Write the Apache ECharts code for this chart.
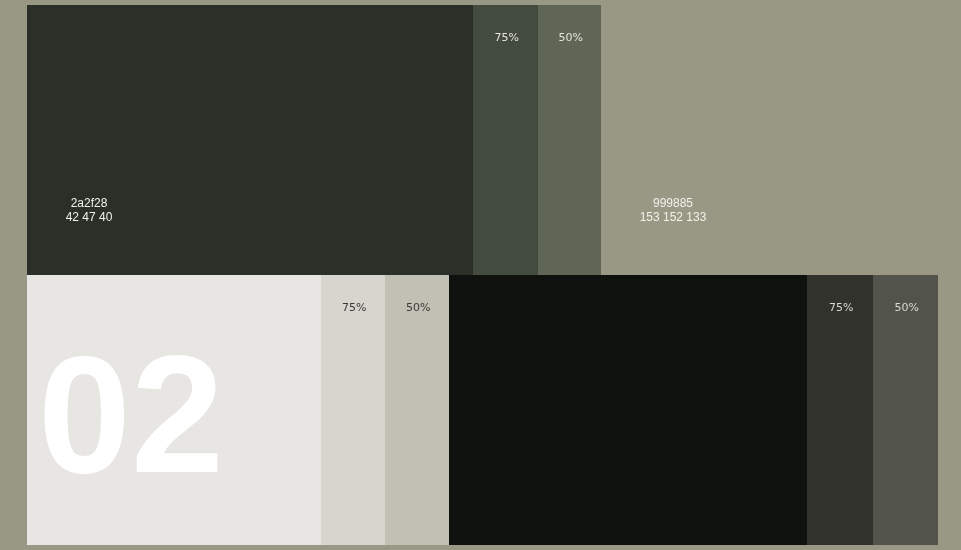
<!DOCTYPE html>
<html><head><meta charset="utf-8">
<script src="https://cdn.jsdelivr.net/npm/echarts@6/dist/echarts.min.js"></script>
<style>html,body{margin:0;padding:0;background:#999885;}#c{width:961px;height:550px;}</style>
</head><body><div id="c"></div>
<script>
// Rows of the palette sheet
const rows = ['top', 'bottom'];
// Segment widths per row (in sheet units)
const topSegments = [446, 65, 63, 337];
const bottomSegments = [294, 64, 64, 358, 66, 65];
// Segment fill colours
const topColors = ['#2a2f28', '#434b3e', '#5f6655', 'transparent'];
const bottomColors = ['#e8e6e2', '#d6d5ce', '#c0c0b4', '#0f110e', '#32322c', '#52534a'];
// Segment texts
const topTexts = ['2a2f28\n42 47 40', '75%', '50%', '999885\n153 152 133'];
const bottomTexts = ['02', '75%', '50%', '', '75%', '50%'];

const pctLabel = (color) => ({show: true, position: ['52%', 33], align: 'center', verticalAlign: 'middle',
  fontFamily: 'DejaVu Sans', fontSize: 11, color: color});
const codeLabel = (dx) => ({show: true, position: [dx, 206], align: 'center', verticalAlign: 'middle',
  fontFamily: 'Liberation Sans', fontSize: 12, lineHeight: 14, color: '#f2f2ec'});

function topItem(i) {
  const item = {value: topSegments[i], itemStyle: {color: topColors[i]}};
  if (i === 0) item.label = codeLabel(62);
  else if (i === 3) item.label = codeLabel(72);
  else item.label = pctLabel('#e4e4da');
  item.label.formatter = topTexts[i];
  return item;
}
function bottomItem(i) {
  const item = {value: bottomSegments[i], itemStyle: {color: bottomColors[i]}};
  if (i === 0) item.label = {show: true, position: [11, 151], align: 'left', verticalAlign: 'middle',
    fontFamily: 'Liberation Sans', fontWeight: 'bold', fontSize: 167, color: '#ffffff'};
  else if (i === 1 || i === 2) item.label = pctLabel('#3a3a36');
  else if (i === 4 || i === 5) item.label = pctLabel('#d8d8cf');
  else item.label = {show: false};
  item.label.formatter = bottomTexts[i];
  return item;
}

const series = [];
for (let i = 0; i < 6; i++) {
  series.push({
    type: 'bar', stack: 'all', barWidth: '100%', barCategoryGap: 0, silent: true,
    data: [i < topSegments.length ? topItem(i) : {value: 0, itemStyle: {color: 'transparent'}, label: {show: false}}, bottomItem(i)]
  });
}

const chart = echarts.init(document.getElementById('c'));
chart.setOption({
  backgroundColor: '#999885',
  animation: false,
  grid: {left: 27, top: 5, width: 911, height: 540},
  xAxis: {type: 'value', min: 0, max: 911, show: false},
  yAxis: {type: 'category', data: rows, inverse: true, show: false},
  series: series
});
</script></body></html>
